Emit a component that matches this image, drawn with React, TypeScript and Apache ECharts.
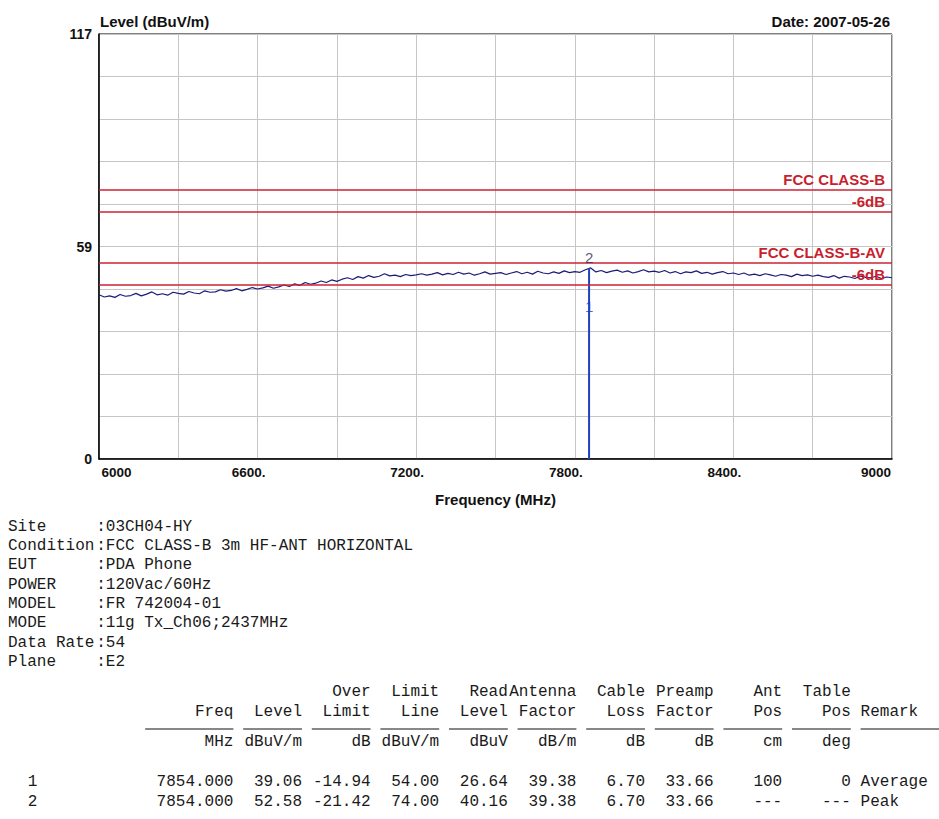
import React, { useEffect, useRef } from 'react';
import * as echarts from 'echarts';

// ---------- data ----------
const FREQ_START = 6000;
const FREQ_STEP = 20;
const traceLevels = [
  45.2, 44.6, 44.9, 44.5, 45.3, 44.8, 45.0, 45.6, 44.9, 45.4, 46.0, 45.2, 45.5, 45.1, 45.9, 45.6,
  45.4, 46.1, 45.7, 45.5, 46.3, 45.9, 46.0, 46.6, 46.2, 46.4, 46.9, 46.3, 46.7, 47.2, 46.8,
  47.1, 47.6, 47.0, 47.4, 47.9, 47.5, 48.2, 47.8, 48.6, 48.1, 48.4, 49.0, 48.6, 49.3, 48.9,
  49.5, 49.9, 49.4, 50.2, 49.8, 50.5, 50.0, 50.3, 51.0, 50.4, 50.6, 50.2, 50.8, 50.5, 50.7,
  51.0, 50.6, 50.9, 51.3, 50.7, 51.1, 50.8, 51.4, 50.9, 51.2, 50.6, 51.0, 51.5, 50.9, 51.1,
  51.3, 50.8, 51.2, 51.6, 51.0, 51.4, 50.9, 51.7, 51.2, 51.0, 51.5, 51.1, 51.8, 51.3, 51.6,
  51.4, 52.1, 52.6, 51.5, 51.9, 51.3, 51.7, 52.0, 51.4, 51.8, 51.2, 51.6, 52.1, 51.5, 51.7,
  51.4, 51.9, 51.2, 51.6, 51.0, 51.5, 51.3, 51.8, 51.1, 51.4, 50.9, 51.3, 51.6, 51.0, 51.2,
  50.8, 51.2, 50.6, 50.9, 50.5, 51.0, 50.7, 50.3, 50.8, 50.6, 50.2, 50.9, 50.5, 50.7, 50.3,
  50.6, 50.2, 50.0, 50.5, 49.8, 50.3, 50.1, 49.7, 50.4, 50.0, 49.9, 50.3, 49.7, 50.1, 49.9,
];
const limitValues = [74, 68, 54, 48];
const limitLabels = ['FCC CLASS-B', '-6dB', 'FCC CLASS-B-AV', '-6dB'];
const markerFreqs = [7854.0, 7854.0];
const markerLevels = [39.06, 52.58];
const markerNames = ['1', '2'];
const markerColors = ['#1f3cc8', '#2e2e50'];
const xTickLabels = ['6000', '6600.', '7200.', '7800.', '8400.', '9000'];
const yTickLabels = ['0', '59', '117'];
const infoLabels = ['Site', 'Condition', 'EUT', 'POWER', 'MODEL', 'MODE', 'Data Rate', 'Plane'];
const infoValues = [
  '03CH04-HY',
  'FCC CLASS-B 3m HF-ANT HORIZONTAL',
  'PDA Phone',
  '120Vac/60Hz',
  'FR 742004-01',
  '11g Tx_Ch06;2437MHz',
  '54',
  'E2',
];
const tableHead1 = ['', '', 'Over', 'Limit', 'Read', 'Antenna', 'Cable', 'Preamp', 'Ant', 'Table'];
const tableHead2 = ['Freq', 'Level', 'Limit', 'Line', 'Level', 'Factor', 'Loss', 'Factor', 'Pos', 'Pos'];
const tableUnits = ['MHz', 'dBuV/m', 'dB', 'dBuV/m', 'dBuV', 'dB/m', 'dB', 'dB', 'cm', 'deg'];
const tableRowNos = ['1', '2'];
const tableRows = [
  ['7854.000', '39.06', '-14.94', '54.00', '26.64', '39.38', '6.70', '33.66', '100', '0'],
  ['7854.000', '52.58', '-21.42', '74.00', '40.16', '39.38', '6.70', '33.66', '---', '---'],
];
const rowRemarks = ['Average', 'Peak'];

// ---------- layout ----------
const W = 939;
const H = 819;
const SANS = '"Liberation Sans", Arial, Helvetica, sans-serif';
const MONO = '"Liberation Mono", "Courier New", monospace';
const CH = 9.8; // monospace advance
const X0 = 8;
const colEnds = [23, 30, 37, 44, 51, 58, 65, 72, 79, 86];
const colStarts = [14, 24, 31, 38, 45, 52, 59, 66, 73, 80];
const remarkCol = 87;
const infoY = [527, 546, 565, 585, 604, 623, 643, 662];
const head1Y = 692;
const head2Y = 712;
const ruleY = 729;
const unitsY = 742;
const rowY = [782, 802];

function monoText(text: string, x: number, y: number, align: string = 'left') {
  return {
    type: 'text',
    x,
    y,
    silent: true,
    style: {
      text,
      fill: '#1a1a1a',
      font: `16px ${MONO}`,
      align,
      verticalAlign: 'middle',
    },
  };
}

export default function App() {
  const ref = useRef<HTMLDivElement>(null);

  useEffect(() => {
    if (!ref.current) return;
    const chart = echarts.init(ref.current, null, { renderer: 'svg', width: W, height: H });

    const traceData = traceLevels.map((v, i) => [FREQ_START + i * FREQ_STEP, v]);

    const graphics: any[] = [];
    graphics.push({
      type: 'text', x: 100, y: 21, silent: true,
      style: { text: 'Level (dBuV/m)', font: `bold 15px ${SANS}`, fill: '#111', align: 'left', verticalAlign: 'middle' },
    });
    graphics.push({
      type: 'text', x: 890, y: 21, silent: true,
      style: { text: 'Date: 2007-05-26', font: `bold 15px ${SANS}`, fill: '#111', align: 'right', verticalAlign: 'middle' },
    });
    infoLabels.forEach((lab, i) => {
      graphics.push(monoText(lab, X0, infoY[i]));
      graphics.push(monoText(':' + infoValues[i], X0 + 9 * CH, infoY[i]));
    });
    tableHead1.forEach((t, i) => {
      if (t) graphics.push(monoText(t, X0 + colEnds[i] * CH, head1Y, 'right'));
    });
    tableHead2.forEach((t, i) => {
      graphics.push(monoText(t, X0 + colEnds[i] * CH, head2Y, 'right'));
    });
    graphics.push(monoText('Remark', X0 + remarkCol * CH, head2Y));
    colEnds.forEach((e, i) => {
      graphics.push({
        type: 'line', silent: true,
        shape: { x1: X0 + colStarts[i] * CH, y1: ruleY, x2: X0 + e * CH, y2: ruleY },
        style: { stroke: '#111', lineWidth: 1 },
      });
    });
    graphics.push({
      type: 'line', silent: true,
      shape: { x1: X0 + remarkCol * CH, y1: ruleY, x2: W, y2: ruleY },
      style: { stroke: '#111', lineWidth: 1 },
    });
    tableUnits.forEach((t, i) => {
      graphics.push(monoText(t, X0 + colEnds[i] * CH, unitsY, 'right'));
    });
    tableRows.forEach((row, r) => {
      graphics.push(monoText(tableRowNos[r], X0 + 3 * CH, rowY[r], 'right'));
      row.forEach((t, i) => {
        graphics.push(monoText(t, X0 + colEnds[i] * CH, rowY[r], 'right'));
      });
      graphics.push(monoText(rowRemarks[r], X0 + remarkCol * CH, rowY[r]));
    });

    const xRich = {
      a: { fontSize: 13.5, fontWeight: 'bold', fontFamily: SANS, color: '#111', padding: [0, 0, 0, 35] },
      b: { fontSize: 13.5, fontWeight: 'bold', fontFamily: SANS, color: '#111', padding: [0, 18, 0, 0] },
      c: { fontSize: 13.5, fontWeight: 'bold', fontFamily: SANS, color: '#111', padding: [0, 32, 0, 0] },
    };

    const option: any = {
      animation: false,
      backgroundColor: '#ffffff',
      grid: {
        left: 99, right: 47, top: 34, bottom: 360,
        show: true, borderColor: '#000', borderWidth: 1, backgroundColor: 'transparent',
      },
      xAxis: {
        type: 'value',
        min: 6000,
        max: 9000,
        interval: 300,
        name: 'Frequency (MHz)',
        nameLocation: 'middle',
        nameGap: 33,
        nameTextStyle: { fontSize: 15, fontWeight: 'bold', fontFamily: SANS, color: '#111' },
        axisLine: { show: true, onZero: false, lineStyle: { color: '#000', width: 1.5 } },
        axisTick: { show: false },
        splitLine: { show: true, lineStyle: { color: '#c6c6c6', width: 1 } },
        axisLabel: {
          show: true,
          margin: 6,
          showMinLabel: true,
          showMaxLabel: true,
          hideOverlap: false,
          rich: xRich,
          formatter: (v: number) => {
            const k = Math.round((v - 6000) / 600);
            if (Math.abs(v - 6000 - k * 600) > 1e-6) return '';
            const s = xTickLabels[k];
            if (s === undefined) return '';
            if (k === 0) return `{a|${s}}`;
            if (k === xTickLabels.length - 1) return `{c|${s}}`;
            return `{b|${s}}`;
          },
        },
      },
      yAxis: {
        type: 'value',
        min: 0,
        max: 117,
        interval: 11.7,
        axisLine: { show: true, onZero: false, lineStyle: { color: '#000', width: 1.5 } },
        axisTick: { show: false },
        splitLine: { show: true, lineStyle: { color: '#c6c6c6', width: 1 } },
        axisLabel: {
          show: true,
          margin: 7,
          showMinLabel: true,
          showMaxLabel: true,
          fontSize: 14,
          fontWeight: 'bold',
          fontFamily: SANS,
          color: '#111',
          formatter: (v: number) => {
            if (Math.abs(v) < 0.01) return yTickLabels[0];
            if (Math.abs(v - 58.5) < 0.01) return yTickLabels[1];
            if (Math.abs(v - 117) < 0.01) return yTickLabels[2];
            return '';
          },
        },
      },
      series: [
        {
          type: 'line',
          data: [],
          silent: true,
          z: 2,
          markLine: {
            silent: true,
            symbol: ['none', 'none'],
            animation: false,
            lineStyle: { color: '#cc2233', width: 1.5, type: 'solid' },
            label: {
              show: true,
              position: 'insideEndTop',
              distance: [7, 3],
              color: '#c81e2e',
              fontSize: 15,
              fontWeight: 'bold',
              fontFamily: SANS,
            },
            emphasis: { disabled: true },
            data: limitValues.map((v, i) => ({ yAxis: v, label: { formatter: limitLabels[i] } })),
          },
        },
        {
          type: 'line',
          data: traceData,
          showSymbol: false,
          symbol: 'none',
          silent: true,
          z: 3,
          lineStyle: { color: '#1c1c78', width: 1.2 },
        },
        {
          type: 'line',
          data: [[markerFreqs[1], 0], [markerFreqs[1], markerLevels[1]]],
          showSymbol: false,
          symbol: 'none',
          silent: true,
          z: 4,
          lineStyle: { color: '#2040c0', width: 2 },
        },
        {
          type: 'scatter',
          symbolSize: 0,
          silent: true,
          z: 5,
          data: markerFreqs.map((f, i) => ({
            value: [f, markerLevels[i]],
            label: { formatter: markerNames[i], color: markerColors[i] },
          })),
          label: {
            show: true,
            position: 'top',
            distance: 3,
            fontSize: 15,
            fontFamily: SANS,
          },
        },
      ],
      graphic: graphics,
    };

    chart.setOption(option);
    return () => {
      chart.dispose();
    };
  }, []);

  return (
    <div
      ref={ref}
      style={{ position: 'fixed', left: 0, top: 0, width: W, height: H, background: '#fff' }}
    />
  );
}
